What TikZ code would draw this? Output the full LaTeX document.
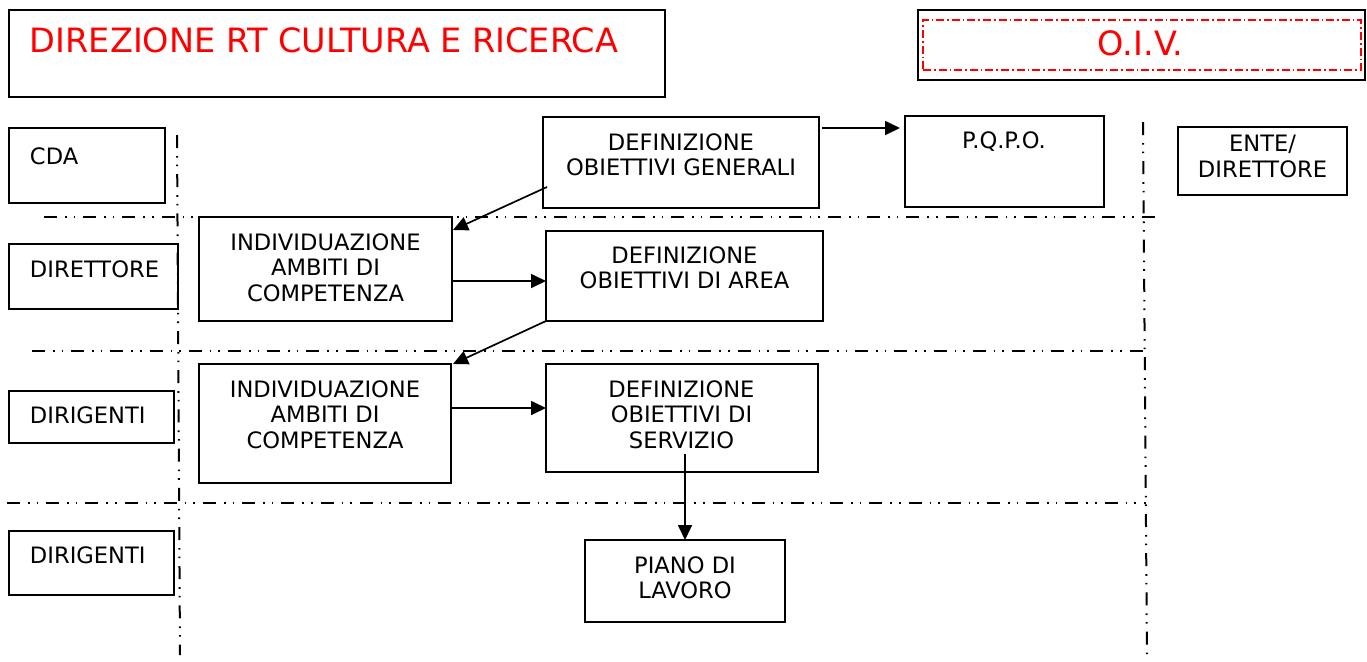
\documentclass[tikz,border=0pt]{standalone}
\usepackage{fontspec}
\setmainfont{DejaVu Sans}
\usetikzlibrary{arrows.meta,calc}
\begin{document}
\begin{tikzpicture}[x=0.5pt,y=-0.5pt]
\tikzset{
 box/.style={draw, line width=1pt, inner sep=0pt, outer sep=0pt},
 txt/.style={inner sep=0pt, outer sep=0pt, align=center, font=\fontsize{11.3}{12.75}\selectfont},
 big/.style={inner sep=0pt, outer sep=0pt, text=red, font=\fontsize{16.75}{19}\selectfont},
 lane/.style={line width=1pt, dash pattern=on 6.5pt off 4pt on 0.8pt off 3.5pt on 0.8pt off 4pt},
 arr/.style={line width=0.85pt, -{Triangle[length=7.5pt,width=7pt]}},
 reddash/.style={draw=red, line width=1pt, inner sep=0pt, outer sep=0pt, dash pattern=on 4pt off 1.5pt on 0.8pt off 1.5pt}
}
\useasboundingbox (0,0) rectangle (1367,661);

% lane separators
\draw[lane] (177,135) -- (180,655);
\draw[lane] (1143,122) -- (1147,661);
\draw[lane] (44,217) -- (1160,217);
\draw[lane] (32,351) -- (1146,351);
\draw[lane] (7,503) -- (1146,503);

% header
\node[box, minimum width=328pt, minimum height=43.5pt] (title) at (337,53.5) {};
\node[big, anchor=base west] (titleT) at (30,52) {DIREZIONE RT CULTURA E RICERCA};
\node[box, minimum width=223.5pt, minimum height=35pt] (oiv) at (1141.5,45) {};
\node[reddash, minimum width=219pt, minimum height=25pt] (oivin) at (1142,45) {};
\node[big, anchor=base] (oivT) at (1140.5,55) {O.I.V.};

% lane labels
\node[box, minimum width=78pt, minimum height=37.5pt] (cda) at (87,165.5) {};
\node[txt, anchor=base west] (cdaT) at (30,164) {CDA};
\node[box, minimum width=84.5pt, minimum height=32.5pt] (dir) at (93.5,276.5) {};
\node[txt, anchor=base west] (dirT) at (30,277) {DIRETTORE};
\node[box, minimum width=82.5pt, minimum height=26pt] (dirig1) at (91.5,417) {};
\node[txt, anchor=base west] (dirig1T) at (30,423) {DIRIGENTI};
\node[box, minimum width=82.5pt, minimum height=32pt] (dirig2) at (91.5,563) {};
\node[txt, anchor=base west] (dirig2T) at (30,563) {DIRIGENTI};

% process boxes
\node[box, minimum width=138pt, minimum height=45.5pt] (defgen) at (681,162.5) {};
\node[txt, anchor=north] (defgenT) at (681,133.5) {DEFINIZIONE\\OBIETTIVI GENERALI};
\node[box, minimum width=99.5pt, minimum height=45.5pt] (pqpo) at (1004.5,161.5) {};
\node[txt, anchor=base] (pqpoT) at (1004,148) {P.Q.P.O.};
\node[box, minimum width=84.5pt, minimum height=34pt] (ente) at (1262.5,161) {};
\node[txt, anchor=north] (enteT) at (1262.5,135.5) {ENTE/\\DIRETTORE};

\node[box, minimum width=126.5pt, minimum height=52pt] (indiv1) at (325.5,269) {};
\node[txt, anchor=north] (indiv1T) at (325.5,233.5) {INDIVIDUAZIONE\\AMBITI DI\\COMPETENZA};
\node[box, minimum width=138.5pt, minimum height=45pt] (defarea) at (684.5,276) {};
\node[txt, anchor=north] (defareaT) at (684.5,246.5) {DEFINIZIONE\\OBIETTIVI DI AREA};

\node[box, minimum width=126pt, minimum height=59.5pt] (indiv2) at (325,423.5) {};
\node[txt, anchor=north] (indiv2T) at (325,380.5) {INDIVIDUAZIONE\\AMBITI DI\\COMPETENZA};
\node[box, minimum width=136pt, minimum height=54pt] (servizio) at (682,418) {};
\node[txt, anchor=north] (servizioT) at (681.5,380.5) {DEFINIZIONE\\OBIETTIVI DI\\SERVIZIO};

\node[box, minimum width=100pt, minimum height=41pt] (piano) at (685,581) {};
\node[txt, anchor=north] (pianoT) at (685,556.5) {PIANO DI\\LAVORO};

% connectors
\draw[arr] ($(defgen.north east)+(3,11)$) -- ($(pqpo.north west)+(-5,12)$);
\draw[arr] ($(defgen.south west)+(4,-21)$) -- ($(indiv1.north east)+(1,13)$);
\draw[arr] ($(indiv1.north east)+(0,64)$) -- ($(defarea.north west)+(0,50)$);
\draw[arr] (defarea.south west) -- ($(indiv2.north east)+(2,0)$);
\draw[arr] ($(indiv2.north east)+(0,44)$) -- ($(servizio.north west)+(0,44)$);
\draw[arr] ($(servizio.south)+(3,-18)$) -- (piano.north);
\end{tikzpicture}
\end{document}
